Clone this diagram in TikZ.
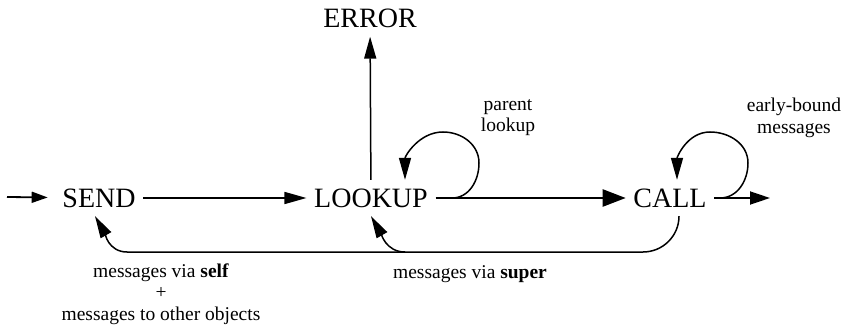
\documentclass[tikz,border=0pt]{standalone}
\usepackage{fontspec}
\setmainfont{Liberation Serif}
\usetikzlibrary{arrows.meta}

\newcommand{\statefont}{\fontsize{28}{30}\selectfont}
\newcommand{\labelfont}{\fontsize{19.5}{21.5}\selectfont}

\begin{document}
\begin{tikzpicture}[x=1pt,y=1pt,line width=1.5pt]
  \useasboundingbox (0,0) rectangle (841,330);
  \coordinate (entry-start)  at (7,133);
  \coordinate (exit-end)     at (770,132);
  \coordinate (lookup-loop)  at (452,132);
  \coordinate (call-loop)    at (720,132);
  \coordinate (return-right) at (643,78);
  \coordinate (return-mid)   at (405,78);
  \coordinate (return-left)  at (127,78);
  \begin{scope}[
    every node/.style={
      inner xsep=7pt,
      inner ysep=8pt,
      font=\statefont,
    },
    ]
    \node (send)   at (99,132)    {SEND};
    \node (lookup) at (371,132)   {LOOKUP};
    \node (call)   at (670,132)   {CALL};
    \node (error)  at (370,311.5) {ERROR};
  \end{scope}
  \begin{scope}[
    every node/.style={inner sep=0pt,align=center,font=\labelfont},
    ]
    \node (parent-label) at (508,212.5) {parent\\lookup};
    \node (early-label)  at (794,212)   {early-bound\\messages};
    \node[anchor=base] (super-label) at (470,52) {messages via \textbf{super}};
    \node (self-label)   at (161,36)    {messages via \textbf{self}\\+\\messages to other objects};
  \end{scope}
  \begin{scope}[
    -{Triangle[length=22pt,width=12pt]},
    ]
    \path
    (entry-start) edge[line width=1.8pt,shorten >=7pt,-{Triangle[length=16pt,width=11pt]}] (send)
    (send)   edge (lookup)
    (lookup) edge (error)
    (lookup) edge[line width=2.4pt,-{Triangle[length=23pt,width=17pt]}] (call)
    (call)   edge[line width=1.8pt,-{Triangle[length=20pt,width=13pt]}] (exit-end);
    \draw (lookup-loop) to[out=0,in=-90] ++(27,35) to[out=90,in=0] ++(-36,31)
      to[out=180,in=90] ([xshift=34pt]lookup.north);
    \draw (call-loop) to[out=0,in=-90] ++(28,35) to[out=90,in=0] ++(-38,31)
      to[out=180,in=90] ([xshift=7pt]call.north);
    \draw ([xshift=9pt]call.south) to[out=-90,in=0] (return-right) -- (return-left)
      to[out=180,in=-60] ([xshift=-4pt]send.south);
    \draw (return-mid) to[out=180,in=-60] (lookup.south);
  \end{scope}
\end{tikzpicture}
\end{document}
